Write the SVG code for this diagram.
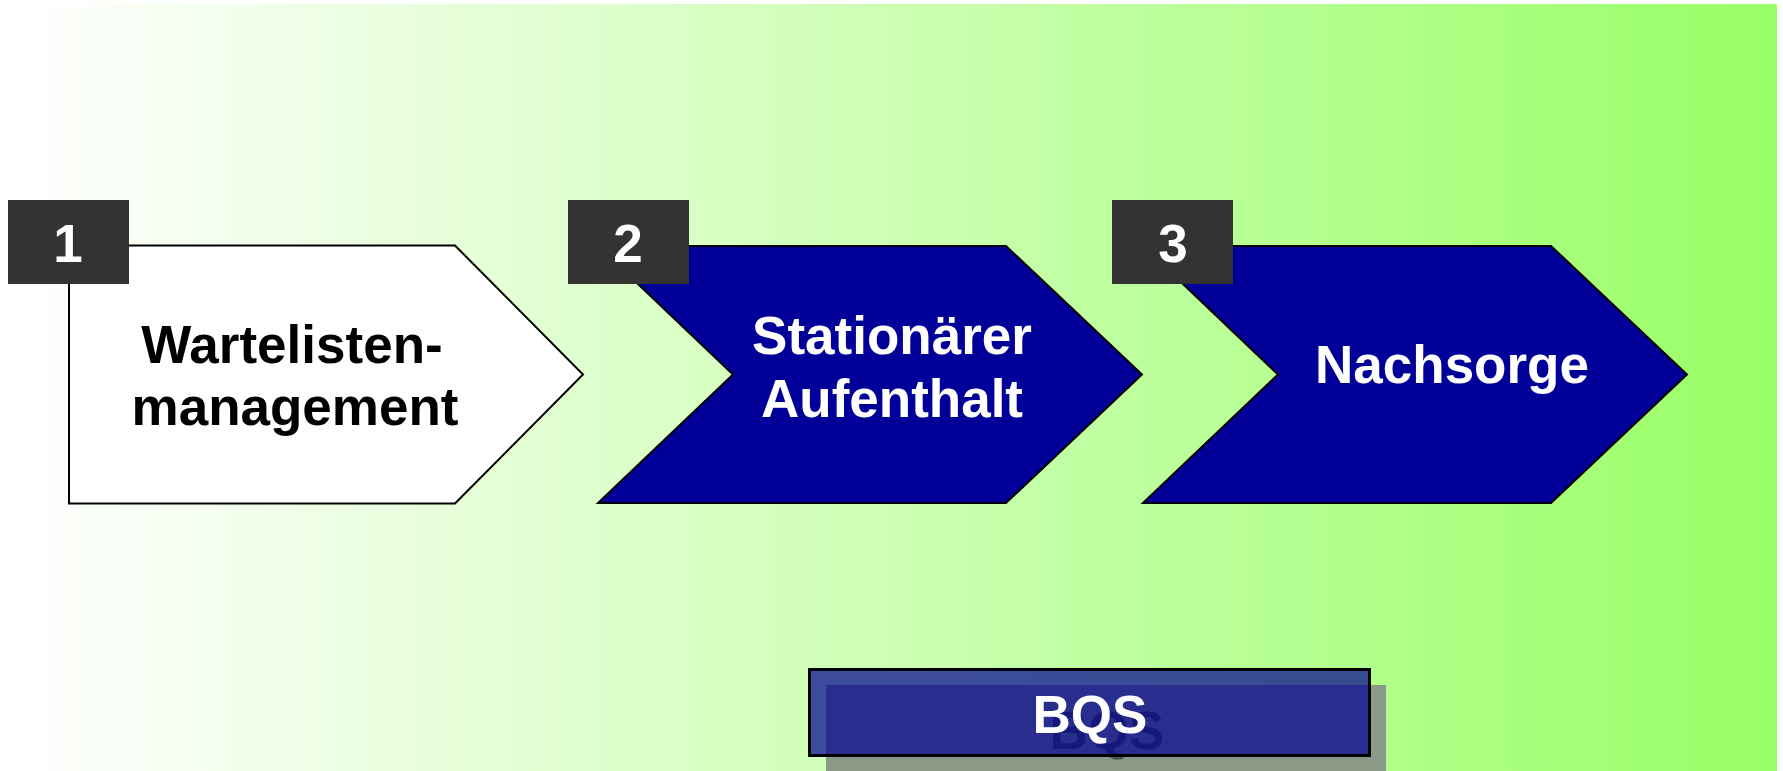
<svg xmlns="http://www.w3.org/2000/svg" width="1783" height="771" viewBox="0 0 1783 771">
  <defs>
    <linearGradient id="bgGrad" x1="0" y1="0" x2="1" y2="0">
      <stop offset="0" stop-color="#ffffff"/>
      <stop offset="1" stop-color="#99ff66"/>
    </linearGradient>
    <style>
      .lbl { font-family: "Liberation Sans", Arial, sans-serif; font-weight: bold; font-size: 53px; text-anchor: middle; }
      .num { font-family: "Liberation Sans", Arial, sans-serif; font-weight: bold; font-size: 53px; text-anchor: middle; fill: #ffffff; }
      .badge { fill: #333333; }
      .step { stroke: #000000; stroke-width: 2; stroke-linejoin: miter; }
      .dark { fill: #000099; }
    </style>
  </defs>

  <!-- background -->
  <rect x="0" y="0" width="1783" height="771" fill="#ffffff"/>
  <rect x="25" y="4" width="1752" height="767" fill="url(#bgGrad)"/>

  <!-- step 1 -->
  <g id="step1">
    <polygon class="step" fill="#ffffff" points="69,245.5 455,245.5 583,374.5 455,503.5 69,503.5"/>
    <rect class="badge" x="8" y="200" width="121" height="84"/>
    <text class="num" x="68" y="262">1</text>
    <text class="lbl" x="292" y="363" fill="#000000">Wartelisten-</text>
    <text class="lbl" x="295" y="425" fill="#000000">management</text>
  </g>

  <!-- step 2 -->
  <g id="step2">
    <polygon class="step dark" points="598,246 1006,246 1142,374.5 1006,503 598,503 733,374.5"/>
    <rect class="badge" x="568" y="200" width="121" height="84"/>
    <text class="num" x="628" y="262">2</text>
    <text class="lbl" x="892" y="354" fill="#ffffff">Stationärer</text>
    <text class="lbl" x="892" y="417" fill="#ffffff">Aufenthalt</text>
  </g>

  <!-- step 3 -->
  <g id="step3">
    <polygon class="step dark" points="1143,246 1551,246 1687,374.5 1551,503 1143,503 1278,374.5"/>
    <rect class="badge" x="1112" y="200" width="121" height="84"/>
    <text class="num" x="1173" y="262">3</text>
    <text class="lbl" x="1452" y="383" fill="#ffffff">Nachsorge</text>
  </g>

  <!-- BQS bar with drop shadow -->
  <g id="bqs">
    <rect x="826" y="685" width="560" height="86" fill="#8a9a86"/>
    <text class="lbl" x="1107" y="749" fill="#4a5648">BQS</text>
    <rect x="809.5" y="669.5" width="560" height="86" fill="#000092" fill-opacity="0.7" stroke="#000000" stroke-width="3"/>
    <text class="lbl" x="1090" y="733" fill="#ffffff">BQS</text>
  </g>

  <g id="connectors"/>
</svg>
